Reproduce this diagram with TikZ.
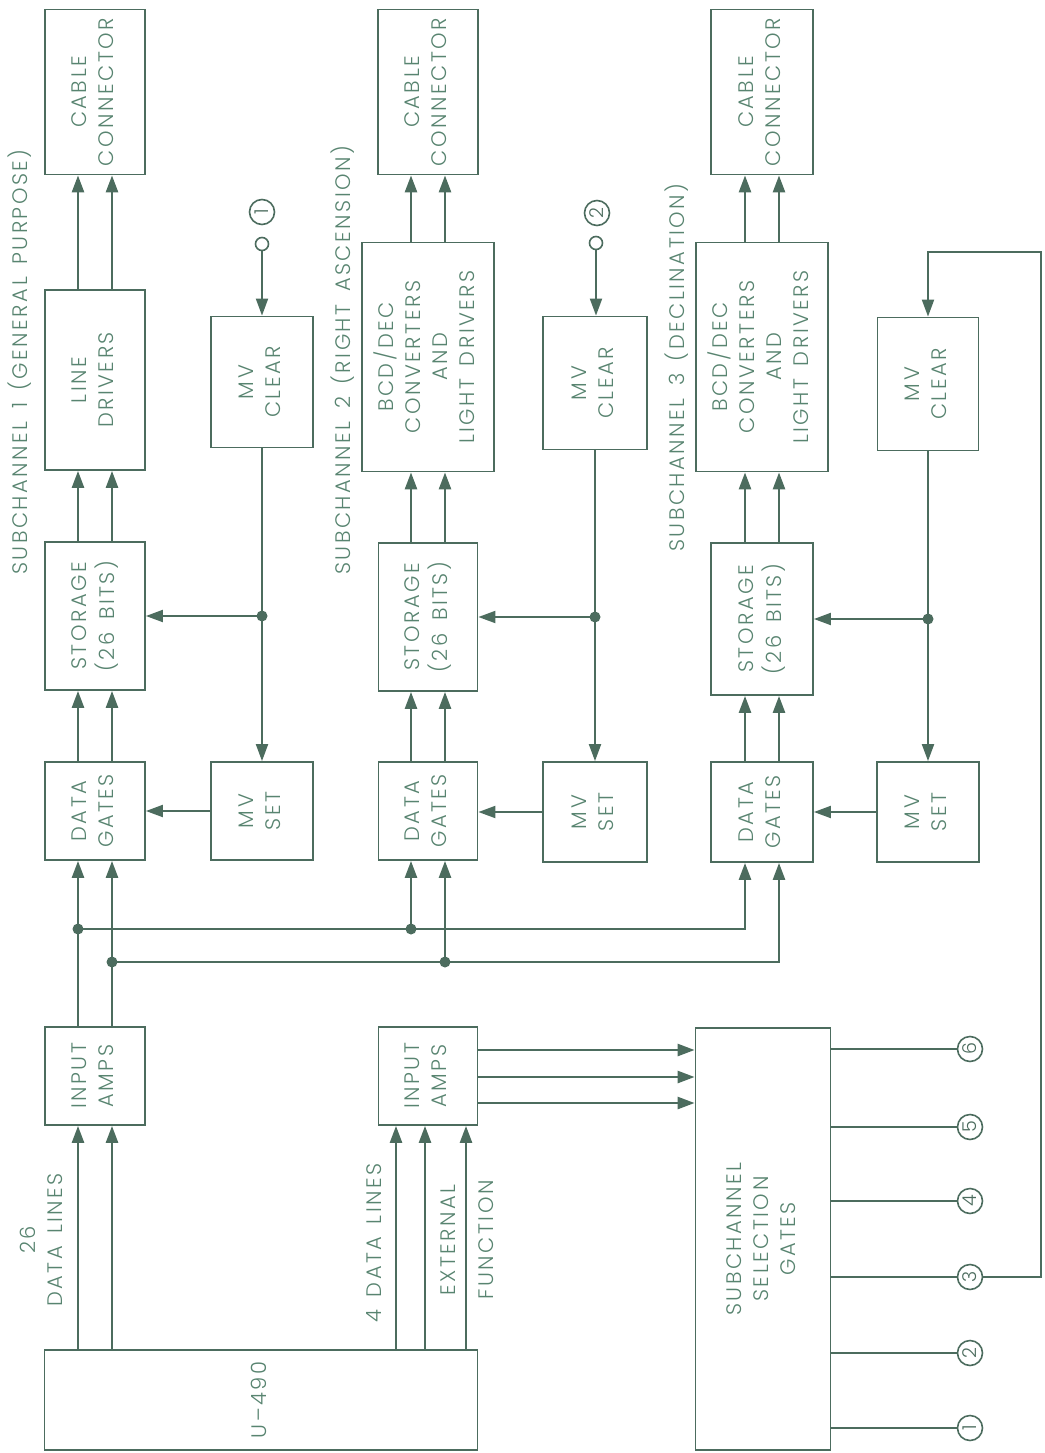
\documentclass[tikz,border=0pt]{standalone}
\usepackage{fontspec}
\setmainfont{Poppins}[UprightFont={* Light}, LetterSpace=12, WordSpace=1.5]
\usepackage{graphicx}
\usepackage{tikz}
\usetikzlibrary{
  arrows.meta,
  calc
}
\definecolor{inkline}{RGB}{76,108,94}
\definecolor{inktext}{RGB}{88,132,112}
\newcommand{\boxfont}{\fontsize{21}{27}\selectfont}
\newcommand{\numfont}{\fontsize{19}{19}\selectfont}
\newcommand{\vtext}[1]{\rotatebox{90}{\begin{tabular}{@{}c@{}}#1\end{tabular}}}
\tikzset{
  blk/.style={draw=inkline, line width=1.8pt, fill=white, inner sep=0pt,
    text=inktext, font=\boxfont},
  sz/.style 2 args={minimum width=#1pt, minimum height=#2pt},
  lbl/.style={inner sep=0pt, text=inktext, font=\boxfont},
  tagcirc/.style={circle, draw=inkline, line width=1.6pt, minimum size=25pt,
    inner sep=0pt, fill=white, text=inkline, font=\numfont},
  term/.style={circle, draw=inkline, line width=1.6pt, minimum size=13pt,
    inner sep=0pt, fill=white},
  arr/.style={-{Triangle[length=17pt, width=12pt]}, line width=2.6pt, draw=inkline},
  carr/.style={-{Triangle[length=17pt, width=12pt]}, line width=2pt, draw=inkline},
  wire/.style={line width=2pt, draw=inkline},
}

\begin{document}
\begin{tikzpicture}[x=1pt, y=-1pt]
  \useasboundingbox (0,0) rectangle (1044,1453);

  % Subchannel 1
  \node[blk, sz={100}{165}] (cc1) at (95,92) {\vtext{CABLE\\CONNECTOR}};
  \node[blk, sz={100}{180}] (ld1) at (95,380) {\vtext{LINE\\DRIVERS}};
  \node[blk, sz={100}{148}] (st1) at (95,616) {\vtext{STORAGE\\(26 BITS)}};
  \node[blk, sz={100}{98}] (dg1) at (95,811) {\vtext{DATA\\GATES}};
  \node[blk, sz={100}{98}] (ia1) at (95,1076) {\vtext{INPUT\\AMPS}};
  \node[blk, sz={102}{131}] (mc1) at (262,382) {\vtext{MV\\CLEAR}};
  \node[blk, sz={102}{98}] (ms1) at (262,811) {\vtext{MV\\SET}};

  % Subchannel 2
  \node[blk, sz={100}{165}] (cc2) at (428,92) {\vtext{CABLE\\CONNECTOR}};
  \node[blk, sz={132}{229}] (bcd2) at (428,357)
    {\vtext{BCD/DEC\\CONVERTERS\\AND\\LIGHT DRIVERS}};
  \node[blk, sz={99}{148}] (st2) at (428,617) {\vtext{STORAGE\\(26 BITS)}};
  \node[blk, sz={99}{98}] (dg2) at (428,811) {\vtext{DATA\\GATES}};
  \node[blk, sz={99}{98}] (ia2) at (428,1076) {\vtext{INPUT\\AMPS}};
  \node[blk, sz={104}{133}] (mc2) at (595,383) {\vtext{MV\\CLEAR}};
  \node[blk, sz={104}{100}] (ms2) at (595,812) {\vtext{MV\\SET}};

  % Subchannel 3
  \node[blk, sz={102}{165}] (cc3) at (762,92) {\vtext{CABLE\\CONNECTOR}};
  \node[blk, sz={132}{229}] (bcd3) at (762,357)
    {\vtext{BCD/DEC\\CONVERTERS\\AND\\LIGHT DRIVERS}};
  \node[blk, sz={102}{152}] (st3) at (762,619) {\vtext{STORAGE\\(26 BITS)}};
  \node[blk, sz={102}{100}] (dg3) at (762,812) {\vtext{DATA\\GATES}};
  \node[blk, sz={101}{133}] (mc3) at (928,384) {\vtext{MV\\CLEAR}};
  \node[blk, sz={102}{100}] (ms3) at (928,812) {\vtext{MV\\SET}};

  % Source and selection
  \node[blk, sz={433}{100}] (u490) at (261,1400) {\vtext{U--490}};
  \node[blk, sz={135}{422}] (ssg) at (763,1239)
    {\vtext{SUBCHANNEL\\SELECTION\\GATES}};

  % Labels
  \node[lbl, rotate=90, anchor=west] (sc1) at (20,575) {SUBCHANNEL 1 (GENERAL PURPOSE)};
  \node[lbl, rotate=90, anchor=west] (sc2) at (343,575) {SUBCHANNEL 2 (RIGHT ASCENSION)};
  \node[lbl, rotate=90, anchor=west] (sc3) at (677,552) {SUBCHANNEL 3 (DECLINATION)};
  \node[lbl] (dl26) at (44,1240) {\vtext{26\\DATA LINES}};
  \node[lbl, rotate=90] (dl4) at (374,1243) {4 DATA LINES};
  \node[lbl, rotate=90] (ext) at (448,1240) {EXTERNAL};
  \node[lbl, rotate=90] (fun) at (486,1240) {FUNCTION};

  % Data paths
  \foreach \a/\b in {ld1/cc1, st1/ld1, dg1/st1, bcd2/cc2, st2/bcd2, dg2/st2,
                     bcd3/cc3, st3/bcd3, dg3/st3}
    \foreach \dx in {-17,17}
      \draw[arr] ([xshift=\dx pt]\a.north) -- ([xshift=\dx pt]\b.south);

  \foreach \dx in {-17,17}
    \draw[arr] ([xshift=\dx pt]ia1.south |- u490.north) -- ([xshift=\dx pt]ia1.south);
  \foreach \dx in {-32,-3,38}
    \draw[arr] ([xshift=\dx pt]ia2.south |- u490.north) -- ([xshift=\dx pt]ia2.south);
  \foreach \dy in {26,-1,-27}
    \draw[arr] ([yshift=\dy pt]ia2.east) -- ([yshift=\dy pt]ia2.east -| ssg.west);

  % Buses to the data gates
  \coordinate (busA) at (0,929);
  \coordinate (busB) at (0,962);
  \foreach \i in {1,2,3} {
    \coordinate (dgL\i) at ([xshift=-17pt]dg\i.south);
    \coordinate (dgR\i) at ([xshift=17pt]dg\i.south);
  }
  \draw[arr] (dgL1 |- ia1.north) -- (dgL1);
  \draw[arr] (dgR1 |- ia1.north) -- (dgR1);
  \draw[arr] (dgL1 |- busA) -| (dgL3);
  \draw[arr] (dgR1 |- busB) -| (dgR3);
  \draw[arr] (dgL2 |- busA) -- (dgL2);
  \draw[arr] (dgR2 |- busB) -- (dgR2);
  \foreach \p in {dgL1 |- busA, dgR1 |- busB, dgL2 |- busA, dgR2 |- busB}
    \fill[inkline] (\p) circle (5.5pt);

  % MV set / clear
  \foreach \i in {1,2,3} {
    \coordinate (j\i) at (mc\i.south |- st\i.east);
    \draw[carr] (mc\i.south) -- (ms\i.north);
    \draw[carr] (j\i) -- (st\i.east);
    \draw[carr] (ms\i.west) -- (ms\i.west -| dg\i.east);
    \fill[inkline] (j\i) circle (5.5pt);
  }

  % Clear inputs
  \node[term] (t1) at (262,244) {};
  \node[tagcirc] (tag1) at (262,212) {\rotatebox{90}{1}};
  \node[term] (t2) at (596,243) {};
  \node[tagcirc] (tag2) at (597,213) {\rotatebox{90}{2}};
  \draw[carr] (t1.south) -- (t1.south |- mc1.north);
  \draw[carr] (t2.south) -- (t2.south |- mc2.north);

  % Selection outputs
  \foreach \n/\yy in {6/1049, 5/1127, 4/1201, 3/1277, 2/1353, 1/1428} {
    \node[tagcirc] (o\n) at (970,\yy) {\rotatebox{90}{\n}};
    \draw[wire] (o\n.west -| ssg.east) -- (o\n.west);
  }
  \coordinate (fbTop) at (1041,252);
  \draw[carr] (o3.east) -| (fbTop) -| (mc3.north);
\end{tikzpicture}
\end{document}
